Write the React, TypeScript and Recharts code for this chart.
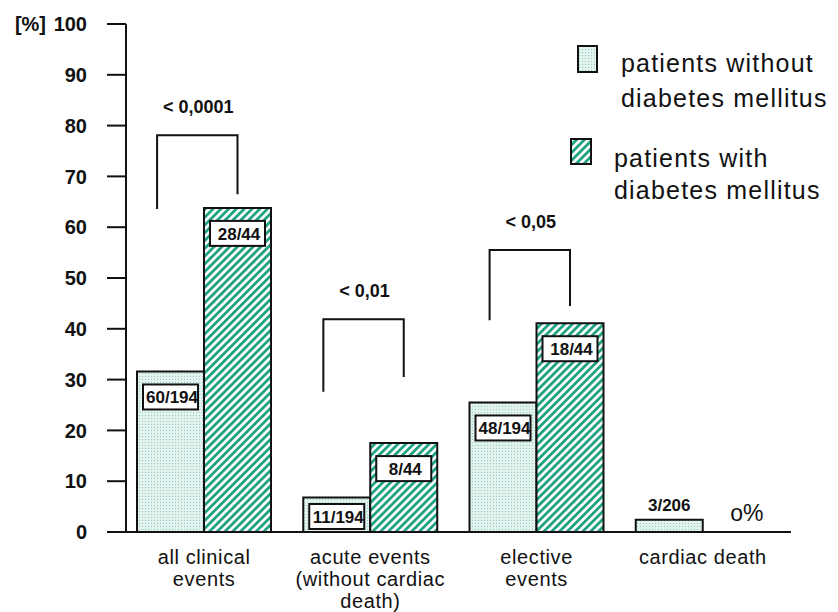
import { Bar, BarChart, LabelList, Legend, ReferenceDot, XAxis, YAxis } from "recharts";

const categories = [
  "all clinical\nevents",
  "acute events\n(without cardiac\ndeath)",
  "elective\nevents",
  "cardiac death",
];
const seriesNames = [
  "patients without\ndiabetes mellitus",
  "patients with\ndiabetes mellitus",
];
// percent of patients
const withoutDiabetes = [31.6, 6.8, 25.5, 2.4];
const withDiabetes = [63.8, 17.5, 41.1, 0];
const withoutCounts = ["60/194", "11/194", "48/194", "3/206"];
const withCounts = ["28/44", "8/44", "18/44", "o%"];
// significance brackets, in % units
const pValues = ["< 0,0001", "< 0,01", "< 0,05", ""];
const bracketTop = [78.1, 41.9, 55.5, null];
const bracketLeftEnd = [63.6, 27.6, 41.7, null];
const bracketRightEnd = [66.5, 30.5, 44.5, null];
const yTicks = [0, 10, 20, 30, 40, 50, 60, 70, 80, 90, 100];
const yUnit = "[%]";

const data = categories.map((name, i) => ({
  name,
  without: withoutDiabetes[i],
  with: withDiabetes[i],
  withoutCount: withoutCounts[i],
  withCount: withCounts[i],
}));

const FONT = "'Liberation Sans', Arial, Helvetica, sans-serif";
const INK = "#111";
const DOT_BG = "#e2f3ef";
const DOT_FG = "#97cdbf";
const STRIPE = "#1fa383";

function Patterns({ prefix }: { prefix: string }) {
  return (
    <defs>
      <pattern id={`${prefix}-dots`} width={3} height={3} patternUnits="userSpaceOnUse">
        <rect width={3} height={3} fill={DOT_BG} />
        <rect x={1} y={1} width={1} height={1} fill={DOT_FG} />
      </pattern>
      <pattern
        id={`${prefix}-stripes`}
        width={5.5}
        height={5.5}
        patternUnits="userSpaceOnUse"
        patternTransform="rotate(45)"
      >
        <rect width={5.5} height={5.5} fill="#fff" />
        <rect width={2.8} height={5.5} fill={STRIPE} />
      </pattern>
    </defs>
  );
}

function CategoryTick(props: any) {
  const { x, y, payload } = props;
  const lines = String(payload.value).split("\n");
  return (
    <text
      x={x}
      y={y + 32}
      textAnchor="middle"
      fontSize={20}
      fontFamily={FONT}
      letterSpacing={0.6}
      fill={INK}
    >
      {lines.map((line, i) => (
        <tspan key={i} x={x} dy={i === 0 ? 0 : 22}>
          {line}
        </tspan>
      ))}
    </text>
  );
}

function ValueTick(props: any) {
  const { x, y, payload } = props;
  const isTop = payload.value === yTicks[yTicks.length - 1];
  return (
    <g fontFamily={FONT} fontWeight="bold" fontSize={20} fill={INK}>
      <text x={x} y={y} dy="0.36em" textAnchor="end">
        {payload.value}
      </text>
      {isTop && (
        <text x={x - 41} y={y} dy="0.36em" textAnchor="end">
          {yUnit}
        </text>
      )}
    </g>
  );
}

function CountLabel(props: any) {
  const vb = props.viewBox || props;
  const { x, y, width, height } = vb;
  const value = props.value;
  if (!value || !height) return null;
  const base = y + height;

  // bar too short for a box: label above it
  if (height < 30) {
    return (
      <text
        x={x + width / 2}
        y={y - 9}
        textAnchor="middle"
        fontSize={17}
        fontWeight="bold"
        fontFamily={FONT}
        fill={INK}
      >
        {value}
      </text>
    );
  }

  const top = Math.min(y + 13, base - 28);
  return (
    <g>
      <rect x={x + 6} y={top} width={55} height={25} fill="#fff" stroke={INK} strokeWidth={2} />
      <text
        x={x + 35}
        y={top + 19}
        textAnchor="middle"
        fontSize={17}
        fontWeight="bold"
        fontFamily={FONT}
        fill={INK}
      >
        {value}
      </text>
    </g>
  );
}

// text for an empty bar, placed from the category position on the baseline
function ZeroLabel(text: string) {
  return (props: any) => (
    <text
      x={props.cx + 44}
      y={props.cy - 11}
      textAnchor="middle"
      fontSize={23}
      fontFamily={FONT}
      fill={INK}
    >
      {text}
    </text>
  );
}

function Bracket(props: any) {
  const i = props.index;
  const vb = props.viewBox || props;
  const top = bracketTop[i];
  if (top == null || !vb.height) return null;
  const base = vb.y + vb.height;
  const k = vb.height / withDiabetes[i];
  const py = (v: number) => base - v * k;
  const xl = vb.x - 0.7 * vb.width;
  const xr = vb.x + 0.5 * vb.width;
  const yt = py(top);
  return (
    <g>
      <path
        d={`M${xl},${py(bracketLeftEnd[i] as number)}V${yt}H${xr}V${py(bracketRightEnd[i] as number)}`}
        fill="none"
        stroke={INK}
        strokeWidth={2}
      />
      <text
        x={(xl + xr) / 2 + 1}
        y={yt - 22}
        textAnchor="middle"
        fontSize={18}
        fontWeight="bold"
        fontFamily={FONT}
        fill={INK}
      >
        {pValues[i]}
      </text>
    </g>
  );
}

function LegendContent() {
  const rows = [
    { box: { x: 18, y: 16, w: 19, h: 26 }, tx: 61, ty: 42, gap: 35, fill: "url(#lg-dots)" },
    { box: { x: 11, y: 109, w: 20, h: 25 }, tx: 54, ty: 137, gap: 32, fill: "url(#lg-stripes)" },
  ];
  return (
    <svg width={278} height={185}>
      <Patterns prefix="lg" />
      {seriesNames.map((name, i) => {
        const r = rows[i];
        return (
          <g key={name}>
            <rect
              x={r.box.x}
              y={r.box.y}
              width={r.box.w}
              height={r.box.h}
              fill={r.fill}
              stroke={INK}
              strokeWidth={2}
            />
            <text fontSize={25} fontFamily={FONT} letterSpacing={1.2} fill={INK}>
              {name.split("\n").map((line, j) => (
                <tspan key={j} x={r.tx} y={r.ty + j * r.gap}>
                  {line}
                </tspan>
              ))}
            </text>
          </g>
        );
      })}
    </svg>
  );
}

export default function App() {
  return (
    <div style={{ position: "absolute", left: 0, top: 0, width: 838, height: 612, background: "#fff" }}>
      <BarChart
        width={838}
        height={612}
        data={data}
        barGap={0}
        margin={{ top: 24, right: 47, bottom: 0, left: 0 }}
      >
        <Patterns prefix="ch" />
        <XAxis
          dataKey="name"
          height={80}
          interval={0}
          padding={{ left: -5, right: 5 }}
          tickLine={false}
          tickSize={0}
          tickMargin={0}
          axisLine={{ stroke: INK, strokeWidth: 2 }}
          tick={<CategoryTick />}
        />
        <YAxis
          domain={[0, 100]}
          ticks={yTicks}
          interval={0}
          width={126}
          tickSize={19}
          tickMargin={20}
          axisLine={{ stroke: INK, strokeWidth: 2 }}
          tickLine={{ stroke: INK, strokeWidth: 2 }}
          tick={<ValueTick />}
        />
        <Legend
          layout="horizontal"
          verticalAlign="middle"
          align="center"
          wrapperStyle={{ left: 560, top: 30, width: 278, height: 185 }}
          content={<LegendContent />}
        />
        <Bar
          dataKey="without"
          name={seriesNames[0]}
          barSize={67}
          fill="url(#ch-dots)"
          stroke={INK}
          strokeWidth={2}
          isAnimationActive={false}
        >
          <LabelList dataKey="withoutCount" content={<CountLabel />} />
        </Bar>
        <Bar
          dataKey="with"
          name={seriesNames[1]}
          barSize={67}
          fill="url(#ch-stripes)"
          stroke={INK}
          strokeWidth={2}
          isAnimationActive={false}
        >
          <LabelList dataKey="withCount" content={<CountLabel />} />
          <LabelList dataKey="with" content={<Bracket />} />
        </Bar>
        {data
          .filter((d) => d.with === 0)
          .map((d) => (
            <ReferenceDot
              key={d.name}
              x={d.name}
              y={0}
              r={0}
              ifOverflow="visible"
              shape={ZeroLabel(d.withCount)}
            />
          ))}
      </BarChart>
    </div>
  );
}
